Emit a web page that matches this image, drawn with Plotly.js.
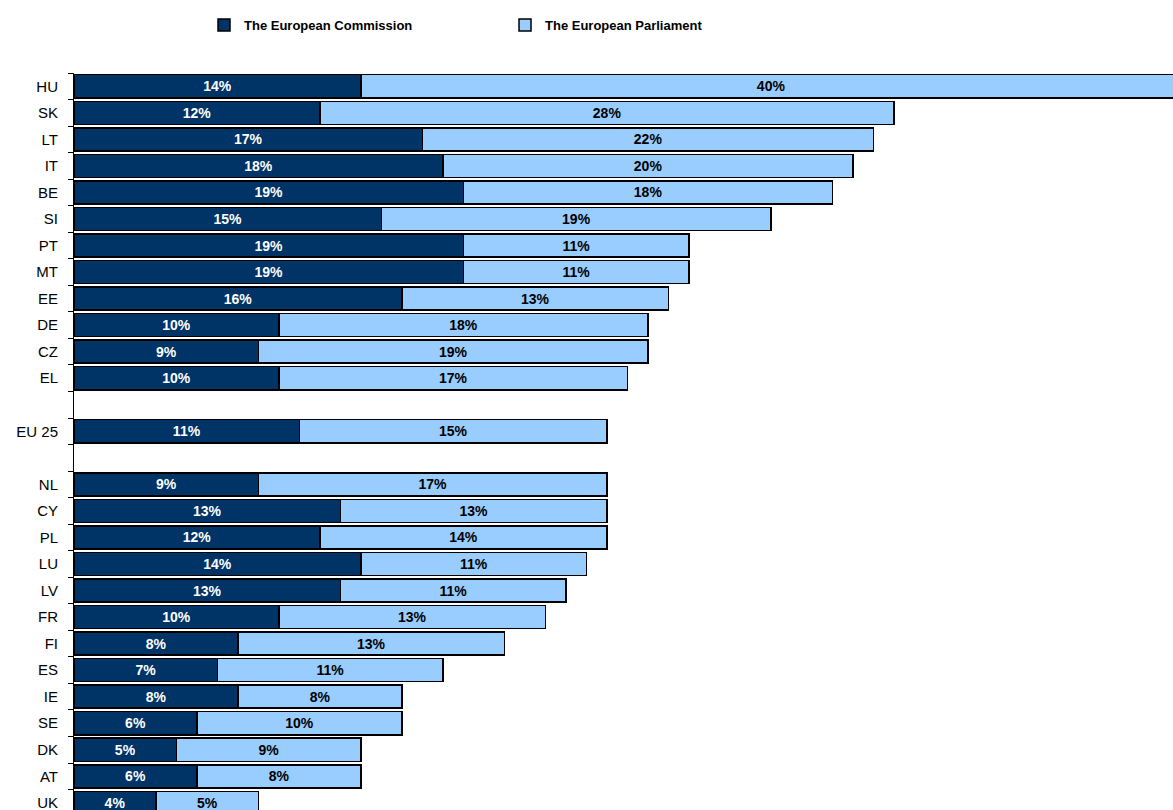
<!DOCTYPE html>
<html>
<head>
<meta charset="utf-8">
<script src="https://cdn.plot.ly/plotly-3.0.1.min.js"></script>
<style>html,body{margin:0;padding:0;background:#fff;}#chart{width:1173px;height:810px;}</style>
</head>
<body>
<div id="chart"></div>
<script>
var categories = ["HU","SK","LT","IT","BE","SI","PT","MT","EE","DE","CZ","EL"," ","EU 25","  ","NL","CY","PL","LU","LV","FR","FI","ES","IE","SE","DK","AT","UK"];
var commission = [14,12,17,18,19,15,19,19,16,10,9,10,null,11,null,9,13,12,14,13,10,8,7,8,6,5,6,4];
var parliament = [40,28,22,20,18,19,11,11,13,18,19,17,null,15,null,17,13,14,11,11,13,13,11,8,10,9,8,5];
var seriesNames = ["The European Commission","The European Parliament"];

function labels(arr){ return arr.map(function(v){ return v===null ? "" : v + "%"; }); }

var common = {
  type: "bar", orientation: "h", y: categories,
  textposition: "inside", insidetextanchor: "middle", textangle: 0,
  constraintext: "none", cliponaxis: true, hoverinfo: "skip"
};
var t1 = Object.assign({}, common, {
  name: seriesNames[0], x: commission, text: labels(commission),
  marker: {color: "#003366", line: {color: "#000000", width: 1.5}},
  insidetextfont: {family: "Liberation Sans, Arial, sans-serif", size: 14, color: "#ffffff", weight: "bold"}
});
var t2 = Object.assign({}, common, {
  name: seriesNames[1], x: parliament, text: labels(parliament),
  marker: {color: "#99CCFF", line: {color: "#000000", width: 1.5}},
  insidetextfont: {family: "Liberation Sans, Arial, sans-serif", size: 14, color: "#000000", weight: "bold"}
});

var layout = {
  width: 1173, height: 810,
  margin: {l: 74, r: 0, t: 73, b: 0, pad: 0},
  barmode: "stack", bargap: 0.13,
  paper_bgcolor: "#ffffff", plot_bgcolor: "#ffffff",
  font: {family: "Liberation Sans, Arial, sans-serif", color: "#000000"},
  showlegend: true,
  legend: {
    orientation: "h", x: 0.1183, xanchor: "left", y: 1.065, yanchor: "middle",
    entrywidth: 256, entrywidthmode: "pixels", traceorder: "normal",
    font: {family: "Liberation Sans, Arial, sans-serif", size: 13, color: "#000000", weight: "bold"},
    itemwidth: 30
  },
  xaxis: {
    range: [0, 53.6], autorange: false, showgrid: false, zeroline: false,
    showline: false, showticklabels: false, ticks: "", fixedrange: true
  },
  yaxis: {
    type: "category", categoryorder: "array", categoryarray: categories,
    range: [27.27, -0.5], autorange: false,
    showline: true, linecolor: "#000000", linewidth: 1,
    ticks: "outside", tickson: "boundaries", ticklen: 5, tickcolor: "#000000", tickwidth: 1,
    showgrid: false, zeroline: false,
    tickfont: {family: "Liberation Sans, Arial, sans-serif", size: 15, color: "#000000"},
    ticklabelstandoff: 12
  }
};

Plotly.newPlot("chart", [t1, t2], layout, {displayModeBar: false, staticPlot: true});
</script>
</body>
</html>
